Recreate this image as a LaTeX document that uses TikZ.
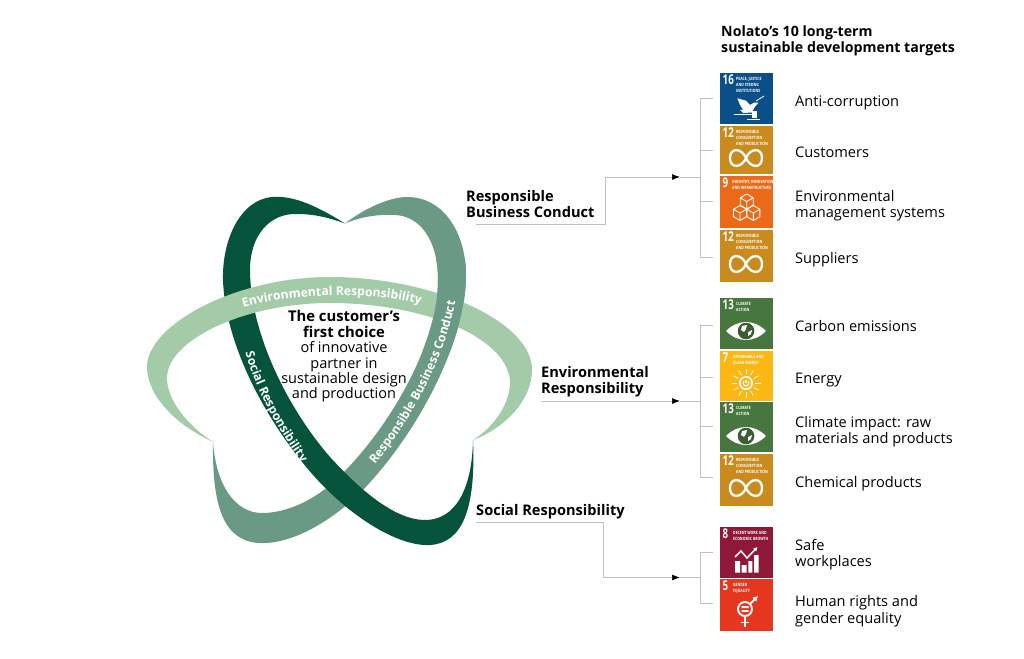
\documentclass[tikz,border=0pt]{standalone}
\usepackage{fontspec}
\usepackage{graphicx}
\setmainfont{Open Sans}
\usetikzlibrary{arrows.meta,decorations.text}
\definecolor{bdark}{HTML}{04533A}
\definecolor{bmid}{HTML}{6A9A85}
\definecolor{blight}{HTML}{A4CBA8}
\definecolor{cline}{HTML}{C0C0C0}
\definecolor{sdgA}{HTML}{0A4F8A}
\definecolor{sdgB}{HTML}{C98A1E}
\definecolor{sdgC}{HTML}{EB6A1A}
\definecolor{sdgD}{HTML}{47773E}
\definecolor{sdgE}{HTML}{FDB713}
\definecolor{sdgF}{HTML}{8F1838}
\definecolor{sdgG}{HTML}{E5361F}
\tikzset{
 tile/.style={inner sep=0pt,minimum width=53pt,outer sep=0pt},
 tilenum/.style={anchor=north west,inner sep=0pt,text=white,font=\bfseries\fontsize{13.5}{13.5}\selectfont},
 tiletxt/.style={anchor=north west,inner sep=0pt,text=white,align=left,font=\bfseries\fontsize{4.4}{6.3}\selectfont},
 lab/.style={anchor=west,align=left,inner sep=0pt,font=\fontsize{14.6}{16.4}\selectfont},
 head/.style={anchor=west,align=left,inner sep=0pt,font=\bfseries\fontsize{14.6}{16.2}\selectfont},
 titlehead/.style={anchor=west,align=left,inner sep=0pt,font=\bfseries\fontsize{14.2}{16.2}\selectfont},
 centre/.style={align=center,inner sep=0pt,font=\fontsize{14.5}{15.4}\selectfont},
 conn/.style={draw=cline,line width=.7pt},
 arr/.style={conn,-{Latex[black,length=8pt,width=6pt]}},
 icon/.style={draw=white,line width=2.3pt,line cap=round},
 bandtxt/.style={decorate,decoration={text along path,text align=center,text={|\bfseries\color{white}\fontsize{12.2}{12.5}\selectfont|#1}}}
}
\newcommand{\sdgtile}[7]{%
 \node[tile,fill=#2,minimum height=#4pt-#3pt] (#1) at (746.5,{(#3+#4)/2}) {};
 \node[tilenum] (#1n) at (722.5,#3+2) {\scalebox{.72}[1]{#5}};
 \node[tiletxt] (#1t) at (#7,#3+2.5) {\scalebox{.78}[1]{\begin{tabular}{@{}l@{}}#6\end{tabular}}};
}
\newcommand{\iconinf}[1]{\draw[icon,shift={(746,#1)}] (0,0) .. controls (4,-10) and (16,-11) .. (16,0) .. controls (16,11) and (4,10) .. (0,0) .. controls (-4,-10) and (-16,-11) .. (-16,0) .. controls (-16,11) and (-4,10) .. (0,0) -- cycle;}
\newcommand{\iconeye}[1]{\begin{scope}[shift={(746,#1)}]
 \fill[white] (-20,0) .. controls (-8,-12) and (8,-12) .. (20,0) .. controls (8,12) and (-8,12) .. (-20,0) -- cycle;
 \fill[sdgD!80!black] (0,0) circle (8.3);
 \fill[white] (-4,-5) -- (1,-6) -- (0,-2) -- (-2,1) -- (-5,-1) -- cycle;
 \fill[white] (2,1) -- (6,-1) -- (5,3) -- (2,5) -- cycle;
 \end{scope}}
\newcommand{\iconcube}[2]{\begin{scope}[shift={(#1,#2)},draw=white,line width=.9pt,line join=round]
 \filldraw[fill=sdgC] (0,-7.5) -- (6.5,-3.7) -- (6.5,3.7) -- (0,7.5) -- (-6.5,3.7) -- (-6.5,-3.7) -- cycle;
 \draw (-6.5,-3.7) -- (0,0) -- (6.5,-3.7) (0,0) -- (0,7.5);
 \end{scope}}
\begin{document}
\begin{tikzpicture}[x=1pt,y=-1pt]
\useasboundingbox (0,0) rectangle (1024,658);
\fill[white] (0,0) rectangle (1024,658);
% mid band
\def\midband{(345,223.5) .. controls (365,208) and (390,197) .. (407,197) .. controls (445,197) and (466,235) .. (466,275) .. controls (466,340) and (420,430) .. (363,490) .. controls (325,528) and (285,545) .. (258,543) .. controls (225,540) and (212,510) .. (213,442) .. controls (216,485) and (235,513) .. (262,513) .. controls (290,513) and (320,497) .. (343,473) .. controls (395,420) and (438,340) .. (438,280) .. controls (438,240) and (420,216) .. (395,215) .. controls (378,214) and (360,217) .. (345,223.5) -- cycle}
\fill[bmid] \midband;
% dark band
\fill[bdark] (345,223.5) .. controls (320,208) and (295,195) .. (272,197) .. controls (240,200) and (222,240) .. (223,280) .. controls (225,340) and (260,410) .. (303,463) .. controls (340,510) and (395,547) .. (430,545) .. controls (462,543) and (476,510) .. (473,440) .. controls (472,490) and (455,520) .. (425,520) .. controls (395,520) and (360,490) .. (330,457) .. controls (285,405) and (250,330) .. (250,270) .. controls (250,235) and (270,213) .. (297,214) .. controls (315,214) and (330,218) .. (345,223.5) -- cycle;
% light band
\fill[blight] (213,442) .. controls (170,422) and (147,392) .. (147,367) .. controls (147,325) and (235,277) .. (330,277) .. controls (430,277) and (532,320) .. (532,370) .. controls (532,400) and (505,428) .. (473,440) .. controls (497,425) and (511,400) .. (510,380) .. controls (505,335) and (420,303) .. (330,303) .. controls (245,303) and (167,340) .. (167,378) .. controls (167,400) and (187,425) .. (213,442) -- cycle;
% mid band over the light band at the right crossing
\begin{scope}
\clip (400,260) rectangle (500,350);
\fill[bmid] \midband;
\end{scope}
% band labels
\path[bandtxt={Environmental Responsibility}] (238,309) .. controls (285,293) and (375,290) .. (426,306);
\path[bandtxt={Social Responsibility}] (244,347) .. controls (253,385) and (275,425) .. (305,468);
\path[bandtxt={Responsible Business Conduct}] (370,471) .. controls (412,420) and (445,360) .. (457,294);
% centre text
\node[centre] (mission) at (344,356.5) {{\bfseries\fontsize{14.8}{15.4}\selectfont The customer’s}\\{\bfseries\fontsize{14.8}{15.4}\selectfont first choice}\\of innovative\\partner in\\sustainable design\\and production};
% heading
\node[titlehead] (title) at (721,41) {Nolato’s 10 long-term\\sustainable development targets};
% tiles
\sdgtile{t1}{sdgA}{73}{124}{16}{PEACE, JUSTICE\\AND STRONG\\INSTITUTIONS}{736}
\sdgtile{t2}{sdgB}{126}{174}{12}{RESPONSIBLE\\CONSUMPTION\\AND PRODUCTION}{736}
\sdgtile{t3}{sdgC}{176}{228}{9}{INDUSTRY, INNOVATION\\AND INFRASTRUCTURE}{732}
\sdgtile{t4}{sdgB}{230}{282}{12}{RESPONSIBLE\\CONSUMPTION\\AND PRODUCTION}{736}
\sdgtile{t5}{sdgD}{298}{349}{13}{CLIMATE\\ACTION}{736}
\sdgtile{t6}{sdgE}{351}{401}{7}{AFFORDABLE AND\\CLEAN ENERGY}{733}
\sdgtile{t7}{sdgD}{402}{452}{13}{CLIMATE\\ACTION}{736}
\sdgtile{t8}{sdgB}{454}{506}{12}{RESPONSIBLE\\CONSUMPTION\\AND PRODUCTION}{736}
\sdgtile{t9}{sdgF}{527}{578}{8}{DECENT WORK AND\\ECONOMIC GROWTH}{733}
\sdgtile{t10}{sdgG}{579}{631}{5}{GENDER\\EQUALITY}{733}
% icons
\fill[white] (737.3,98.3) -- (746,100.7) -- (750,105) -- (754,102.7) -- (758.3,102.7) -- (755,106.7) -- (751.7,112.5) -- (743.3,113) -- (740,110) -- (743.3,110) -- (740,105) -- cycle;
\draw[white,line width=.8pt] (756,101) -- (764,96);
\draw[white,line width=1.2pt] (733.5,114.5) -- (752,114.5);
\fill[white] (751.7,110.7) rectangle (756.7,118.3);
\draw[white,line width=1pt] (747,119.5) -- (760,119.5);
\iconinf{158}
\iconcube{746.7}{201.5}
\iconcube{740}{213}
\iconcube{753.4}{213}
\iconinf{264}
\iconeye{331}
\begin{scope}[shift={(746,383)},draw=white]
 \draw[line width=1.6pt] (0,0) circle (6.2);
 \draw[line width=1.1pt] (0,-3) -- (0,0);
 \draw[line width=1.1pt] (-2.2,-1.8) arc (220:-40:2.9);
 \foreach \a in {0,30,...,330}{\draw[line width=.8pt] (\a:9) -- (\a:14.5);}
\end{scope}
\iconeye{436}
\iconinf{488}
\fill[white] (735,561) rectangle (740,572.7) (741.7,565) rectangle (746.7,572.7) (748.4,561) rectangle (752.4,572.7) (754,555) rectangle (758.5,572.7);
\draw[white,line width=1.5pt,-{Latex[length=4pt,width=4.5pt]}] (735,557) -- (741,551) -- (747,558) -- (757.5,547);
\draw[white,line width=1.9pt] (745,609) circle (7);
\fill[white] (741.5,606.2) rectangle (748.5,608) (741.5,610) rectangle (748.5,611.8);
\draw[white,line width=1.9pt] (745,616) -- (745,627) (741,622.5) -- (749,622.5);
\draw[white,line width=1.9pt,-{Latex[length=5pt,width=6pt]}] (750,604) -- (758,596);
% target labels
\node[lab] (l1) at (795,102.5) {Anti-corruption};
\node[lab] (l2) at (795,152) {Customers};
\node[lab] (l3) at (795,206) {Environmental\\management systems};
\node[lab] (l4) at (795,260) {Suppliers};
\node[lab] (l5) at (795,326) {Carbon emissions};
\node[lab] (l6) at (795,380) {Energy};
\node[lab] (l7) at (795,432) {Climate impact: raw\\materials and products};
\node[lab] (l8) at (795,484) {Chemical products};
\node[lab] (l9) at (795,554.5) {Safe\\workplaces};
\node[lab] (l10) at (795,611) {Human rights and\\gender equality};
% pillar labels
\node[head] (p1) at (466,204) {Responsible\\Business Conduct};
\node[head] (p2) at (541,382) {Environmental\\Responsibility};
\node[head] (p3) at (476,512) {Social Responsibility};
% connectors
\coordinate (a1) at (476,224); \coordinate (a1b) at (605,224); \coordinate (a1c) at (605,177); \coordinate (a1t) at (680,177); \coordinate (j1) at (700,177);
\coordinate (a2) at (541,401); \coordinate (a2t) at (680,401); \coordinate (j2) at (700,401);
\coordinate (a3) at (476,522); \coordinate (a3b) at (603,522); \coordinate (a3c) at (603,577.5); \coordinate (a3t) at (680,577.5); \coordinate (j3) at (700,577.5);
\draw[arr] (a1) -- (a1b) -- (a1c) -- (a1t);
\draw[conn] (a1t) -- (j1);
\draw[arr] (a2) -- (a2t);
\draw[conn] (a2t) -- (j2);
\draw[arr] (a3) -- (a3b) -- (a3c) -- (a3t);
\draw[conn] (a3t) -- (j3);
\foreach \n/\y in {b1/98,b2/150,b3/201,b4/257,b5/325,b6/377,b7/426,b8/477,b9/552,b10/603}{
 \coordinate (\n) at (700,\y); \coordinate (\n e) at (713,\y);
 \draw[conn] (\n) -- (\n e);}
\draw[conn] (b1) -- (b4);
\draw[conn] (b5) -- (b8);
\draw[conn] (b9) -- (b10);
\end{tikzpicture}
\end{document}
